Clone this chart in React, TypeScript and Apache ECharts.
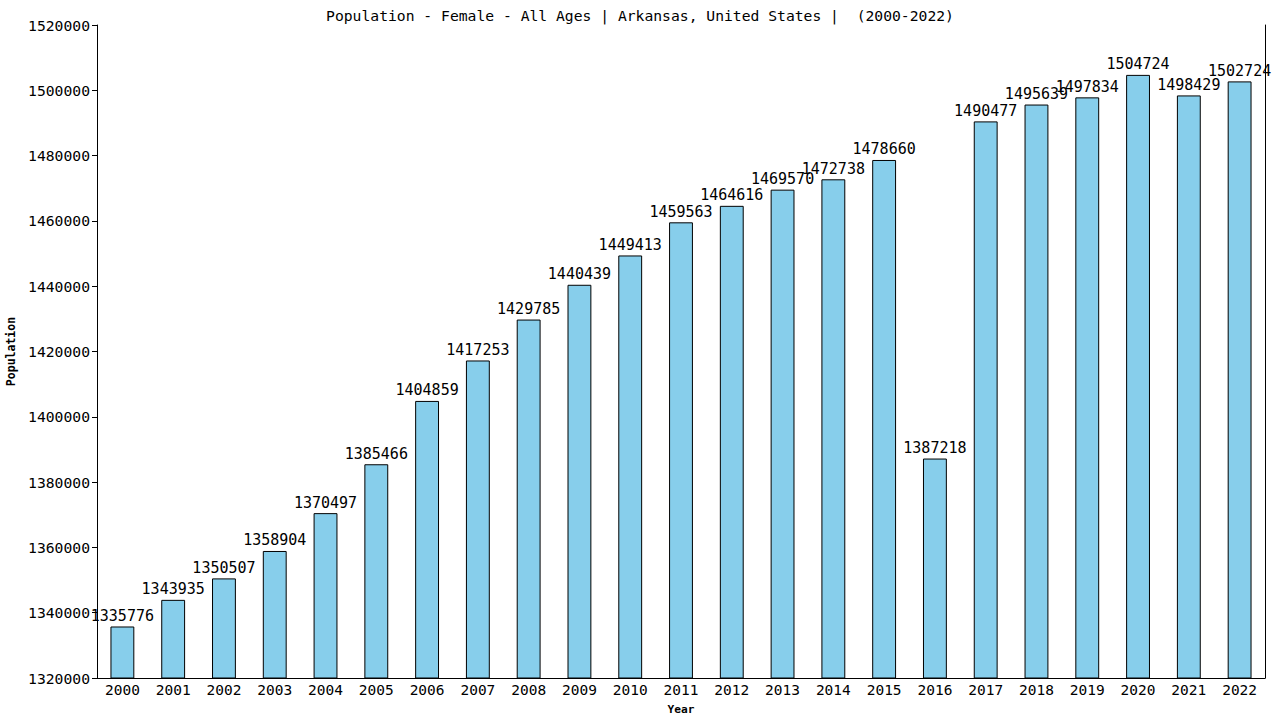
import React, { useEffect, useRef } from "react";
import * as echarts from "echarts";

const years = [
  "2000", "2001", "2002", "2003", "2004", "2005", "2006", "2007", "2008", "2009", "2010", "2011",
  "2012", "2013", "2014", "2015", "2016", "2017", "2018", "2019", "2020", "2021", "2022",
];
const population = [
  1335776, 1343935, 1350507, 1358904, 1370497, 1385466, 1404859, 1417253, 1429785, 1440439,
  1449413, 1459563, 1464616, 1469570, 1472738, 1478660, 1387218, 1490477, 1495639, 1497834,
  1504724, 1498429, 1502724,
];
const yMin = 1320000;
const yMax = 1520000;
const yStep = 20000;

const FONT = "'DejaVu Sans Mono', monospace";

export default function App() {
  const chartRef = useRef<HTMLDivElement>(null);

  useEffect(() => {
    if (!chartRef.current) return;
    const chart = echarts.init(chartRef.current, undefined, { renderer: "svg" });
    chart.setOption({
      animation: false,
      backgroundColor: "#fff",
      title: {
        text: "Population - Female - All Ages | Arkansas, United States |  (2000-2022)",
        left: "center",
        top: 3,
        textStyle: { fontFamily: FONT, fontSize: 14.7, fontWeight: "normal", color: "#000" },
      },
      grid: { left: 97, right: 15, top: 25, bottom: 42, outerBoundsMode: "none", containLabel: false },
      xAxis: {
        type: "category",
        data: years,
        name: "Year",
        nameLocation: "middle",
        nameGap: 26,
        nameTextStyle: { fontFamily: FONT, fontSize: 11.2, fontWeight: "bold", color: "#000" },
        axisLine: { lineStyle: { color: "#000", width: 1 } },
        axisTick: { show: false },
        axisLabel: { fontFamily: FONT, fontSize: 14.5, color: "#000", margin: 4 },
      },
      yAxis: [
        {
          type: "value",
          min: yMin,
          max: yMax,
          interval: yStep,
          name: "Population",
          nameLocation: "middle",
          nameGap: 80,
          nameTextStyle: { fontFamily: FONT, fontSize: 11.5, fontWeight: "bold", color: "#000" },
          axisLine: { show: true, lineStyle: { color: "#000", width: 1 } },
          axisTick: { show: true, length: 5, lineStyle: { color: "#000" } },
          axisLabel: {
            fontFamily: FONT,
            fontSize: 14.7,
            color: "#000",
            margin: 7,
            formatter: (v: number) => String(v),
          },
          splitLine: { show: false },
        },
        {
          type: "value",
          min: yMin,
          max: yMax,
          interval: yStep,
          position: "right",
          axisLine: { show: true, lineStyle: { color: "#000", width: 1 } },
          axisTick: { show: false },
          axisLabel: { show: false },
          splitLine: { show: false },
        },
      ],
      series: [
        {
          type: "bar",
          yAxisIndex: 0,
          data: population,
          barWidth: "47%",
          itemStyle: { color: "#87CEEB", borderColor: "#000", borderWidth: 1 },
          label: {
            show: true,
            position: "top",
            distance: 3,
            fontFamily: FONT,
            fontSize: 15,
            color: "#000",
          },
        },
      ],
    });
    return () => chart.dispose();
  }, []);

  return (
    <div style={{ position: "fixed", left: 0, top: 0, width: 1280, height: 720, overflow: "hidden" }}>
      <div ref={chartRef} style={{ width: 1280, height: 720 }} />
    </div>
  );
}
